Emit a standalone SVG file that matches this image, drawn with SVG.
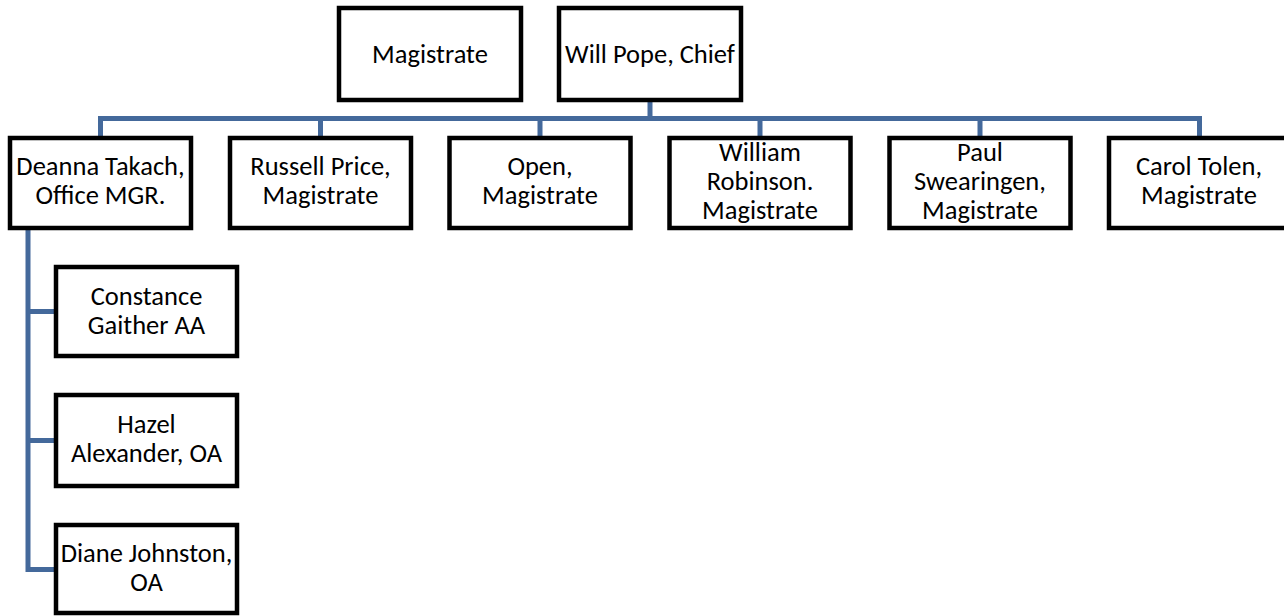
<svg xmlns="http://www.w3.org/2000/svg" width="1284" height="616" viewBox="0 0 1284 616">
<style>
.box{fill:#fff;stroke:#000;stroke-width:4.5;}
.t{font-family:Carlito,Calibri,Lato,"Liberation Sans",sans-serif;font-size:26.5px;fill:#000;text-anchor:middle;}
.c{fill:none;stroke:#44699b;stroke-width:5;stroke-linejoin:miter;}
</style>
<rect width="1284" height="616" fill="#fff"/>
<g id="connectors">
<path class="c" d="M650,100 V118.5"/>
<path class="c" d="M100.5,138 V118.5 H1199.5 V138"/>
<path class="c" d="M320.5,118.5 V138 M540,118.5 V138 M760,118.5 V138 M980,118.5 V138"/>
<path class="c" d="M28,228 V569.5 H56 M28,311.5 H56 M28,440.5 H56"/>
</g>
<g id="magistrate"><rect class="box" x="339" y="8" width="182" height="92"/><text class="t" x="430" y="63">Magistrate</text></g>
<g id="will-pope"><rect class="box" x="559" y="8" width="182" height="92"/><text class="t" x="650" y="63">Will Pope, Chief</text></g>
<g id="deanna"><rect class="box" x="10" y="138" width="181" height="90"/><text class="t" x="100.5" y="175">Deanna Takach,</text><text class="t" x="100.5" y="204">Office MGR.</text></g>
<g id="russell"><rect class="box" x="230" y="138" width="181" height="90"/><text class="t" x="320.5" y="175">Russell Price,</text><text class="t" x="320.5" y="204">Magistrate</text></g>
<g id="open"><rect class="box" x="449.5" y="138" width="181" height="90"/><text class="t" x="540" y="175">Open,</text><text class="t" x="540" y="204">Magistrate</text></g>
<g id="william"><rect class="box" x="669.5" y="138" width="181" height="90"/><text class="t" x="760" y="161">William</text><text class="t" x="760" y="190">Robinson.</text><text class="t" x="760" y="219">Magistrate</text></g>
<g id="paul"><rect class="box" x="889.5" y="138" width="181" height="90"/><text class="t" x="980" y="161">Paul</text><text class="t" x="980" y="190">Swearingen,</text><text class="t" x="980" y="219">Magistrate</text></g>
<g id="carol"><rect class="box" x="1109" y="138" width="181" height="90"/><text class="t" x="1199" y="175">Carol Tolen,</text><text class="t" x="1199" y="204">Magistrate</text></g>
<g id="constance"><rect class="box" x="56" y="267" width="181" height="89"/><text class="t" x="146.5" y="305">Constance</text><text class="t" x="146.5" y="334">Gaither AA</text></g>
<g id="hazel"><rect class="box" x="56" y="395" width="181" height="91"/><text class="t" x="146.5" y="433">Hazel</text><text class="t" x="146.5" y="462">Alexander, OA</text></g>
<g id="diane"><rect class="box" x="56" y="525" width="181" height="88"/><text class="t" x="146.5" y="562">Diane Johnston,</text><text class="t" x="146.5" y="591">OA</text></g>
</svg>
